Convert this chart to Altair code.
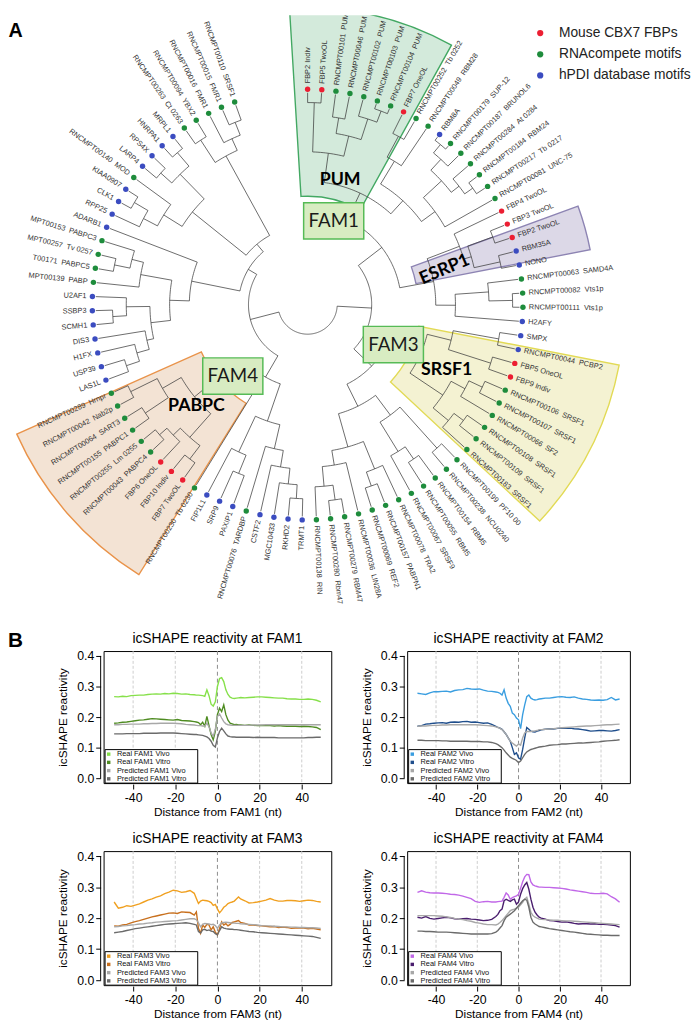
import math
import altair as alt
import pandas as pd

# ======================= Panel A : radial dendrogram =======================
LEAVES = [
    "FBP2 Indiv", "FBP5 TwoOL", "RNCMPT00101  PUM", "RNCMPT00046  PUM", "RNCMPT00102  PUM",
    "RNCMPT00103  PUM", "RNCMPT00104  PUM", "FBP7 OneOL", "RNCMPT00252  Tb 0252", "RNCMPT00049  RBM28",
    "RBM8A", "RNCMPT00179  SUP-12", "RNCMPT00187  BRUNOL6", "RNCMPT00284  At 0284", "RNCMPT00184  RBM24",
    "RNCMPT00217  Tb 0217", "RNCMPT00081  UNC-75", "FBP4 TwoOL", "FBP3 TwoOL", "FBP2 TwoOL",
    "RBM35A", "NONO", "RNCMPT00063  SAMD4A", "RNCMPT00082  Vts1p", "RNCMPT00111  Vts1p",
    "H2AFY", "SMPX", "RNCMPT00044  PCBP2", "FBP5 OneOL", "FBP9 Indiv",
    "RNCMPT00106  SRSF1", "RNCMPT00107  SRSF1", "RNCMPT00066  SF2", "RNCMPT00108  SRSF1", "RNCMPT00109  SRSF1",
    "RNCMPT00183  SRSF1", "RNCMPT00199  PF10 00", "RNCMPT00238  NCU0240", "RNCMPT00154  RBM5", "RNCMPT00055  RBM5",
    "RNCMPT00067  SRSF9", "RNCMPT00078  TRA2", "RNCMPT00157  PABPN1", "RNCMPT00069  REF2", "RNCMPT00036  LIN28A",
    "RNCMPT00279  RBM47", "RNCMPT00280  Rbm47", "RNCMPT00138  RIN", "TRMT1", "RKHD2",
    "MGC10433", "CSTF2", "RNCMPT00076  TARDBP", "PAXIP1", "SRP9",
    "FIP1L1", "RNCMPT00230  Tb 0230", "FBP7 TwoOL", "FBP10 Indiv", "FBP6 OneOL",
    "RNCMPT00043  PABPC4", "RNCMPT00255  Lm 0255", "RNCMPT00155  PABPC1", "RNCMPT00064  SART3", "RNCMPT00042  Nab2p",
    "RNCMPT00289  Hrnpr", "LAS1L", "USP39", "H1FX", "DIS3",
    "SCMH1", "SSBP3", "U2AF1", "MPT00139  PABP", "T00171  PABPC5",
    "MPT00257  Tv 0257", "MPT00153  PABPC3", "ADARB1", "RPP25", "CLK1",
    "KIAA0907", "RNCMPT00140  MOD", "LARP4", "RPS4X", "HNRPA1",
    "MRPL1", "RNCMPT00263  Ct 0263", "RNCMPT00094  YBX2", "RNCMPT00016  FMR1", "RNCMPT00015  FMR1",
    "RNCMPT00110  SRSF1",
]
# F = mouse CBX7 FBP, R = RNAcompete motif, H = hPDI database motif
LEAF_TYPE = ("FFRRRRRFRR" "HRRRRRRFFF" "HHRRRHHHFF" "RRRRRRRRRR" "RRRRRRRRHH"
             "HHRHHHRFFF" "RRRRRRHHHH" "HHHRRRRHHH" "HRHHHHRRRRR")
assert len(LEAVES) == len(LEAF_TYPE) == 91

TYPE_KEYS = ["F", "R", "H"]
TYPE_LABELS = ["Mouse CBX7 FBPs", "RNAcompete motifs", "hPDI database motifs"]

# tree nodes: [branch height, child, child, ...]; ints are 1-based leaf numbers
PUM = [155, [205, 1, 2], [176, [192, 3, 4], [198, 5, [210, 6, 7]]]]
G8_10 = [170, [194, 8, 9], 10]
G11_17 = [160, [185, [200, [211, 11, 12], 13], [195, 14, [205, 15, 16]]], 17]
G18_22 = [165, 18, [173, [200, 19, 20], [200, 21, 22]]]
G23_26 = [150, [184, 23, [208, 24, 25]], 26]
TOP = [95, [125, PUM, [143, G8_10, G11_17]], [130, G18_22, G23_26]]

S31_36 = [165, [181, [196, 31, 32], 33], [185, [197, 34, 35], 36]]
G27_36 = [125, [150, [197, 27, 28], [195, 29, 30]], S31_36]
G37_48 = [115, [140, [196, 37, 38], [175, [190, 39, 40], 41]],
          [150, [180, 42, [195, 43, 44]], [165, 45, [185, 48, [200, 46, 47]]]]]
RIGHT = [90, G27_36, G37_48]

B49_53 = [150, 53, [167, 52, [183, 51, [197, 49, 50]]]]
B54_56 = [165, [185, 54, 55], 56]
PABPC = [148, [180, [197, 58, 59], [190, 60, [200, 61, 62]]], [170, [198, 63, 64], [200, 65, 66]]]
BOTTOM = [85, [125, B49_53, B54_56], [100, 57, PABPC]]

L67_73 = [160, [167, 70, [180, 69, [194, 67, 68]]], [184, 73, [198, 71, 72]]]
LPABP = [172, 74, [184, 77, [200, 75, 76]]]
L79_82 = [172, [188, 79, [204, 80, 81]], 82]
L83_86 = [185, [200, 83, 84], [203, 85, 86]]
L87_91 = [172, [199, 87, 88], [185, 89, [199, 90, 91]]]
LEFT = [70, [120, [140, L67_73, LPABP], 78], [80, [150, L79_82, L83_86], L87_91]]

TREE = [30, [65, TOP, RIGHT], [60, BOTTOM, LEFT]]

# shaded clade sectors
SECTOR_NAMES = ["PUM", "ESRP1", "SRSF1", "PABPC"]
SECTOR_A1 = [356.5, 70.0, 101.0, 212.0]
SECTOR_A2 = [389.0, 79.0, 133.0, 246.0]
SECTOR_RIN = [110, 112, 115, 118]
SECTOR_ROUT = [301, 292, 322, 323]
SECTOR_FILL = ["#d3eadb", "#dcd8e7", "#f4f2d2", "#f3e3d4"]
SECTOR_STROKE = ["#43a863", "#8d84b3", "#e2da55", "#e9934a"]
# clade label anchors (angle, radius, rotation)
CLADE_A = [14.6, 75.7, 115.3, 227.5]
CLADE_R = [131, 143.5, 156, 153]
CLADE_ROT = [0, 337, 0, 0]
# family boxes
FAM_NAMES = ["FAM1", "FAM3", "FAM4"]
FAM_A = [17.3, 115.0, 226.3]
FAM_R = [89, 96, 105]

CX, CY = 312.0, 301.5          # tree centre (page px)
STEP = 3.78                    # degrees per leaf
LEAF_R, DOT_R, LABEL_R = 215.0, 218.5, 224.5
A_W, A_H = 683, 600


def polar(a_deg, r):
    a = math.radians(a_deg)
    return CX + r * math.sin(a), CY - r * math.cos(a)


seg_rows = []
seg_count = [0]


def add_seg(pts):
    sid = seg_count[0]
    seg_count[0] += 1
    for k, (a, r) in enumerate(pts):
        x, y = polar(a, r)
        seg_rows.append({"seg": sid, "k": k, "x": x, "y": y})


def walk(node):
    if isinstance(node, int):
        return (node - 1) * STEP, LEAF_R
    r = node[0]
    kids = [walk(c) for c in node[1:]]
    angs = [a for a, _ in kids]
    lo, hi = min(angs), max(angs)
    n = max(2, int(hi - lo) + 2)
    add_seg([(lo + (hi - lo) * i / (n - 1), r) for i in range(n)])
    for a, rc in kids:
        add_seg([(a, r), (a, rc)])
    return (lo + hi) / 2, r


walk(TREE)
tree_df = pd.DataFrame(seg_rows)

leaf_rows = []
for i, (name, t) in enumerate(zip(LEAVES, LEAF_TYPE)):
    a = i * STEP
    dx, dy = polar(a, DOT_R)
    lx, ly = polar(a, LABEL_R)
    right = a <= 180
    rot = (a - 90) % 360 if right else (a + 90) % 360
    leaf_rows.append({"x": dx, "y": dy, "lx": lx, "ly": ly, "type": t, "rot": rot,
                      "side": "R" if right else "L", "label": name.replace("  ", "\u00a0\u00a0")})
leaf_df = pd.DataFrame(leaf_rows)

sec_df = pd.DataFrame({
    "name": SECTOR_NAMES, "cx": [CX] * 4, "cy": [CY] * 4,
    "t1": [math.radians(a) for a in SECTOR_A1], "t2": [math.radians(a) for a in SECTOR_A2],
    "rin": SECTOR_RIN, "rout": SECTOR_ROUT, "fill": SECTOR_FILL, "stroke": SECTOR_STROKE,
})
clade_df = pd.DataFrame({
    "name": SECTOR_NAMES,
    "x": [polar(a, r)[0] for a, r in zip(CLADE_A, CLADE_R)],
    "y": [polar(a, r)[1] for a, r in zip(CLADE_A, CLADE_R)],
    "rot": CLADE_ROT,
})
BOX_W, BOX_H = 61, 37
fam_pts = [polar(a, r) for a, r in zip(FAM_A, FAM_R)]
fam_df = pd.DataFrame({
    "name": FAM_NAMES,
    "x": [p[0] for p in fam_pts], "y": [p[1] for p in fam_pts],
    "x1": [p[0] - BOX_W / 2 for p in fam_pts], "x2": [p[0] + BOX_W / 2 for p in fam_pts],
    "y1": [p[1] - BOX_H / 2 for p in fam_pts], "y2": [p[1] + BOX_H / 2 for p in fam_pts],
})
LEG_X, LEG_Y, LEG_DY = 548, 26, 21.5
leg_df = pd.DataFrame({
    "key": TYPE_KEYS, "label": TYPE_LABELS,
    "x": [LEG_X] * 3, "tx": [LEG_X + 19] * 3,
    "y": [LEG_Y + LEG_DY * i for i in range(3)],
})

xs = alt.Scale(domain=[8, 8 + A_W], nice=False, zero=False)
ys = alt.Scale(domain=[8, 8 + A_H], nice=False, zero=False, reverse=True)


def X(f="x"):
    return alt.X(f + ":Q", scale=xs, axis=None)


def Y(f="y"):
    return alt.Y(f + ":Q", scale=ys, axis=None)


sectors = alt.Chart(sec_df).mark_arc(strokeWidth=1.4, clip=True).encode(
    x=X("cx"), y=Y("cy"),
    theta=alt.Theta("t1:Q", scale=None, stack=None), theta2="t2:Q",
    radius=alt.Radius("rout:Q", scale=None), radius2="rin:Q",
    fill=alt.Fill("fill:N", scale=None), stroke=alt.Stroke("stroke:N", scale=None),
)
tree = alt.Chart(tree_df).mark_line(color="#3a3a3a", strokeWidth=0.75).encode(
    x=X(), y=Y(), detail="seg:N", order="k:Q")
boxes = alt.Chart(fam_df).mark_rect(fill="#d8ecc2", stroke="#56bb56", strokeWidth=1.5).encode(
    x=X("x1"), x2="x2:Q", y=Y("y1"), y2="y2:Q")
box_text = alt.Chart(fam_df).mark_text(font="Lato", fontSize=19, color="#1a1a1a").encode(
    x=X(), y=Y(), text="name:N")
dot_scale = alt.Scale(domain=TYPE_KEYS, range=["#ec1e32", "#1e8c3c", "#3b4cc0"])
dots = alt.Chart(leaf_df).mark_circle(size=30, opacity=1).encode(
    x=X(), y=Y(), color=alt.Color("type:N", scale=dot_scale, legend=None))
lab_r = alt.Chart(leaf_df).transform_filter("datum.side == 'R'").mark_text(
    align="left", baseline="middle", fontSize=7.5, color="#333333", clip=True).encode(
    x=X("lx"), y=Y("ly"), text="label:N", angle=alt.Angle("rot:Q", scale=None))
lab_l = alt.Chart(leaf_df).transform_filter("datum.side == 'L'").mark_text(
    align="right", baseline="middle", fontSize=7.5, color="#333333", clip=True).encode(
    x=X("lx"), y=Y("ly"), text="label:N", angle=alt.Angle("rot:Q", scale=None))
clades = alt.Chart(clade_df).mark_text(font="Lato", fontSize=18, fontWeight="bold", color="black").encode(
    x=X(), y=Y(), text="name:N", angle=alt.Angle("rot:Q", scale=None))
leg_dots = alt.Chart(leg_df).mark_circle(size=40, opacity=1).encode(
    x=X(), y=Y(), color=alt.Color("key:N", scale=alt.Scale(domain=TYPE_KEYS, range=["#f0143c", "#0b5e22", "#1a22e8"]), legend=None))
leg_text = alt.Chart(leg_df).mark_text(align="left", baseline="middle", fontSize=14, color="#222222").encode(
    x=X("tx"), y=Y(), text="label:N")
a_lab = alt.Chart(pd.DataFrame({"t": ["A"], "x": [8.5], "y": [24]})).mark_text(
    align="left", baseline="middle", fontSize=20, fontWeight="bold", color="black").encode(
    x=X(), y=Y(), text="t:N")

panelA = alt.layer(sectors, tree, boxes, box_text, dots, lab_r, lab_l, clades,
                   leg_dots, leg_text, a_lab).properties(width=A_W, height=A_H)

# ======================= Panel B : icSHAPE profiles =======================
POS = list(range(-49, -10, 2)) + list(range(-10, 11)) + list(range(11, 50, 2))

FAM1_REAL_VIVO = [.267, .266, .268, .267, .270, .271, .272, .272, .274, .275, .276, .275, .277, .276, .278, .277, .275, .276, .274, .273,
                  .272, .272, .271, .270, .268, .289, .270, .242, .236, .250, .300, .326, .329, .316, .289, .274, .265, .262, .261, .262, .263,
                  .264, .263, .264, .265, .266, .266, .265, .264, .263, .262, .262, .260, .259, .259, .258, .258, .259, .258, .255, .250]
FAM1_REAL_VITRO = [.180, .181, .183, .184, .186, .188, .190, .191, .193, .195, .194, .193, .192, .191, .190, .192, .189, .188, .187, .185,
                   .184, .182, .175, .183, .170, .202, .172, .143, .126, .153, .208, .229, .218, .240, .208, .190, .180, .178, .175, .176, .174,
                   .174, .173, .174, .173, .172, .173, .172, .172, .171, .172, .171, .170, .170, .170, .169, .170, .169, .168, .166, .159]
FAM1_PRED_VIVO = [.175, .175, .176, .176, .177, .177, .177, .178, .178, .179, .179, .180, .180, .180, .180, .179, .178, .176, .175, .174,
                  .173, .172, .172, .171, .170, .180, .168, .148, .137, .160, .202, .210, .197, .185, .178, .175, .174, .173, .173, .173, .173,
                  .173, .173, .173, .174, .174, .174, .175, .175, .175, .175, .175, .175, .175, .175, .175, .175, .175, .175, .175, .175]
FAM1_PRED_VITRO = [.145, .145, .145, .146, .146, .146, .146, .147, .147, .147, .147, .148, .148, .148, .148, .147, .146, .145, .144, .143,
                   .143, .142, .141, .140, .138, .135, .130, .121, .108, .102, .132, .153, .164, .155, .145, .138, .136, .135, .135, .134, .134,
                   .134, .134, .134, .133, .134, .133, .133, .133, .133, .132, .132, .132, .132, .132, .132, .132, .133, .133, .134, .134]

FAM2_REAL_VIVO = [.278, .276, .274, .279, .283, .283, .284, .285, .282, .287, .289, .290, .294, .292, .291, .292, .288, .285, .284, .282,
                  .281, .278, .272, .289, .262, .245, .235, .213, .208, .197, .191, .162, .208, .240, .267, .272, .262, .258, .256, .257, .259,
                  .260, .262, .262, .264, .266, .267, .265, .264, .266, .262, .259, .258, .256, .255, .256, .255, .257, .264, .256, .259]
FAM2_REAL_VITRO = [.170, .172, .177, .178, .180, .181, .182, .180, .183, .184, .183, .185, .186, .183, .184, .182, .180, .181, .176, .170,
                   .166, .164, .160, .152, .143, .132, .121, .100, .078, .083, .067, .062, .094, .132, .166, .160, .154, .152, .151, .154, .156,
                   .158, .160, .162, .161, .163, .164, .163, .164, .162, .161, .159, .157, .154, .155, .156, .156, .155, .154, .156, .159]
FAM2_PRED_VIVO = [.170, .171, .171, .172, .173, .173, .174, .174, .175, .175, .175, .175, .175, .175, .175, .174, .173, .172, .171, .168,
                  .166, .163, .159, .152, .143, .132, .121, .115, .110, .105, .112, .108, .132, .148, .153, .153, .153, .154, .155, .156, .159,
                  .159, .160, .161, .162, .164, .165, .166, .167, .168, .169, .170, .171, .171, .172, .173, .174, .175, .175, .176, .177]
FAM2_PRED_VITRO = [.124, .124, .123, .123, .123, .123, .122, .122, .121, .121, .121, .121, .121, .120, .120, .120, .119, .119, .117, .113,
                   .110, .105, .100, .092, .083, .076, .069, .065, .062, .058, .051, .056, .067, .078, .086, .090, .094, .096, .098, .100, .102,
                   .103, .105, .108, .109, .110, .112, .112, .113, .114, .115, .115, .116, .117, .118, .119, .121, .122, .123, .124, .126]

FAM3_REAL_VIVO = [.252, .232, .235, .240, .238, .242, .246, .252, .258, .262, .268, .272, .279, .284, .290, .288, .283, .285, .289, .280,
                  .263, .247, .255, .258, .257, .256, .254, .250, .241, .244, .230, .217, .225, .235, .240, .247, .250, .252, .255, .262, .268,
                  .262, .256, .249, .250, .252, .255, .258, .263, .258, .255, .255, .257, .257, .256, .254, .256, .258, .257, .254, .252]
FAM3_REAL_VITRO = [.175, .174, .178, .180, .185, .189, .192, .196, .200, .204, .207, .210, .213, .216, .217, .215, .220, .219, .218, .210,
                   .220, .167, .151, .178, .170, .180, .178, .162, .172, .155, .146, .167, .188, .178, .182, .175, .180, .186, .188, .190, .192,
                   .186, .183, .178, .178, .176, .175, .174, .172, .173, .170, .171, .170, .167, .168, .169, .168, .166, .167, .165, .162]
FAM3_PRED_VIVO = [.172, .173, .175, .176, .178, .179, .181, .182, .184, .185, .187, .188, .189, .190, .191, .192, .194, .196, .198, .198,
                  .195, .185, .172, .180, .183, .182, .181, .179, .180, .176, .167, .178, .185, .186, .187, .186, .185, .184, .184, .183, .183,
                  .182, .181, .180, .179, .178, .176, .175, .175, .174, .173, .172, .172, .171, .171, .170, .170, .169, .169, .168, .167]
FAM3_PRED_VITRO = [.153, .155, .157, .160, .163, .166, .168, .170, .172, .174, .176, .178, .180, .181, .182, .183, .184, .185, .183, .180,
                   .178, .157, .152, .162, .164, .160, .162, .158, .157, .150, .146, .160, .172, .168, .166, .165, .164, .164, .163, .163, .162,
                   .161, .159, .157, .156, .154, .153, .152, .151, .150, .149, .148, .147, .146, .145, .144, .143, .142, .141, .138, .135]

FAM4_REAL_VIVO = [.283, .288, .284, .282, .281, .281, .280, .279, .277, .276, .274, .271, .267, .263, .254, .251, .253, .254, .252, .252,
                  .253, .254, .255, .267, .281, .275, .261, .266, .269, .272, .277, .296, .317, .333, .341, .340, .317, .307, .304, .302, .300,
                  .300, .299, .299, .298, .297, .296, .294, .291, .289, .287, .285, .283, .280, .279, .279, .280, .278, .269, .262, .251]
FAM4_REAL_VITRO = [.203, .200, .205, .199, .197, .199, .201, .203, .201, .198, .197, .198, .199, .197, .196, .194, .192, .193, .196, .205,
                   .212, .224, .229, .256, .261, .257, .254, .259, .261, .245, .252, .277, .295, .307, .315, .293, .261, .235, .219, .210, .203,
                   .200, .197, .192, .191, .189, .187, .188, .186, .183, .181, .182, .182, .181, .182, .180, .180, .179, .178, .176, .171]
FAM4_PRED_VIVO = [.208, .208, .208, .208, .208, .207, .206, .204, .202, .199, .197, .195, .192, .190, .186, .184, .181, .179, .179, .178,
                  .181, .186, .192, .200, .208, .216, .224, .227, .229, .232, .235, .243, .251, .261, .267, .245, .219, .208, .203, .200, .197,
                  .196, .195, .194, .193, .193, .192, .191, .191, .190, .189, .188, .187, .186, .185, .184, .183, .182, .181, .180, .179]
FAM4_PRED_VITRO = [.158, .158, .157, .157, .156, .155, .155, .155, .154, .153, .152, .151, .150, .149, .149, .149, .149, .149, .150, .155,
                   .160, .168, .176, .192, .203, .208, .213, .218, .224, .232, .240, .248, .256, .261, .258, .235, .203, .187, .181, .177, .173,
                   .172, .169, .166, .164, .162, .160, .158, .156, .155, .153, .151, .149, .148, .147, .146, .145, .145, .144, .144, .144]

FAM_COLORS = {
    1: ["#86e04a", "#4f8c22", "#a8a8a8", "#6b6b6b"],
    2: ["#3a9ee0", "#1f4e8c", "#a8a8a8", "#6b6b6b"],
    3: ["#f0a020", "#c8701e", "#a8a8a8", "#6b6b6b"],
    4: ["#c168e8", "#4a1e6e", "#a8a8a8", "#6b6b6b"],
}
FAM_DATA = {
    1: [FAM1_REAL_VIVO, FAM1_REAL_VITRO, FAM1_PRED_VIVO, FAM1_PRED_VITRO],
    2: [FAM2_REAL_VIVO, FAM2_REAL_VITRO, FAM2_PRED_VIVO, FAM2_PRED_VITRO],
    3: [FAM3_REAL_VIVO, FAM3_REAL_VITRO, FAM3_PRED_VIVO, FAM3_PRED_VITRO],
    4: [FAM4_REAL_VIVO, FAM4_REAL_VITRO, FAM4_PRED_VIVO, FAM4_PRED_VITRO],
}
for _k, _v in FAM_DATA.items():
    for _s in _v:
        assert len(_s) == len(POS), (_k, len(_s))
GRID_AT = [-40, -20, 20, 40]
X_TICKS = [-40, -20, 0, 20, 40]
Y_TICKS = [0.0, 0.1, 0.2, 0.3, 0.4]
LEG_BOX_W, LEG_BOX_H, LEG_ROW = 94, 34, 8.35


def fam_chart(k, w, h):
    names = [f"Real FAM{k} Vivo", f"Real FAM{k} Vitro", f"Predicted FAM{k} Vivo", f"Predicted FAM{k} Vitro"]
    rows = []
    for name, vals in zip(names, FAM_DATA[k]):
        for p, v in zip(POS, vals):
            rows.append({"pos": p, "val": v, "series": name})
    df = pd.DataFrame(rows)
    xsc = alt.Scale(domain=[-54, 54], nice=False, zero=False)
    ysc = alt.Scale(domain=[-0.016, 0.416], nice=False, zero=False)
    grid = alt.Chart(pd.DataFrame({"g": GRID_AT})).mark_rule(
        color="#c8c8c8", strokeDash=[3, 2], strokeWidth=0.9).encode(x=alt.X("g:Q", scale=xsc, axis=None))
    zero = alt.Chart(pd.DataFrame({"g": [0]})).mark_rule(
        color="#8c8c8c", strokeDash=[4, 3], strokeWidth=1).encode(x=alt.X("g:Q", scale=xsc, axis=None))
    lines = alt.Chart(df).mark_line(strokeWidth=1.4).encode(
        x=alt.X("pos:Q", scale=xsc, axis=alt.Axis(
            values=X_TICKS, title=f"Distance from FAM{k} (nt)",
            labelExpr="datum.value < 0 ? '-' + abs(datum.value) : '' + datum.value",
            grid=False, domain=False, tickSize=5, offset=1, labelPadding=3, titlePadding=2)),
        y=alt.Y("val:Q", scale=ysc, axis=alt.Axis(
            values=Y_TICKS, format=".1f", title="icSHAPE reactivity",
            grid=False, domain=False, tickSize=5, offset=3, labelPadding=2, titlePadding=7)),
        color=alt.Color("series:N", sort=names, scale=alt.Scale(domain=names, range=FAM_COLORS[k]),
                        legend=None),
    )
    yline = alt.Chart(pd.DataFrame({"a": [0.0], "b": [0.4]})).mark_rule(color="black", strokeWidth=1).encode(
        x=alt.value(-3), y=alt.Y("a:Q", scale=ysc, axis=None), y2="b:Q")
    # legend drawn inside the plot (bottom-left), rows positioned in pixels from the top
    ldf = pd.DataFrame({"name": names, "col": FAM_COLORS[k],
                        "ly": [h - LEG_BOX_H + 4.6 + LEG_ROW * i for i in range(4)]})
    lsc = alt.Scale(domain=[0, h], nice=False, zero=False, reverse=True)
    leg_box = alt.Chart(pd.DataFrame({"a": [0]})).mark_rect(
        fill="white", stroke="black", strokeWidth=1).encode(
        x=alt.value(1.5), x2=alt.value(1.5 + LEG_BOX_W), y=alt.value(h - LEG_BOX_H), y2=alt.value(h))
    leg_sq = alt.Chart(ldf).mark_square(size=12, filled=True, opacity=1).encode(
        x=alt.value(5.2), y=alt.Y("ly:Q", scale=lsc, axis=None), color=alt.Color("col:N", scale=None))
    leg_tx = alt.Chart(ldf).mark_text(align="left", baseline="middle", fontSize=7.5, color="#111111").encode(
        x=alt.value(13.5), y=alt.Y("ly:Q", scale=lsc, axis=None), text="name:N")
    return alt.layer(grid, zero, lines, yline, leg_box, leg_sq, leg_tx).resolve_scale(
        x="independent", y="independent", color="independent"
    ).properties(
        width=w, height=h,
        title=alt.TitleParams(f"icSHAPE reactivity at FAM{k}", fontSize=14, fontWeight="normal",
                              offset=4, color="black"),
        view=alt.ViewBackground(stroke="black", strokeWidth=1),
    )


def spacer(txt, h):
    return alt.Chart(pd.DataFrame({"t": [txt]})).mark_text(
        align="left", baseline="middle", fontSize=21, fontWeight="bold", color="black").encode(
        text="t:N", x=alt.value(0), y=alt.value(-10)).properties(width=22, height=h)


def indep(c):
    return c.resolve_scale(x="independent", y="independent", color="independent")


def row(txt, a, b, h):
    pair = indep(alt.hconcat(fam_chart(a, 231, h), fam_chart(b, 226, h), spacing=28))
    return indep(alt.hconcat(spacer(txt, h), pair, spacing=27))


row1 = row("B", 1, 2, 134)
row2 = row("", 3, 4, 136)
panelB = indep(alt.vconcat(row1, row2, spacing=13))

chart = indep(alt.vconcat(panelA, panelB, spacing=24)).properties(
    padding={"left": 0, "top": 0, "right": 0, "bottom": 0}
).configure(font="Liberation Sans").configure_view(stroke=None).configure_axis(
    labelFontSize=12.5, titleFontSize=12, titleFontWeight="normal", labelColor="black",
    titleColor="black", tickColor="black", labelFont="Liberation Sans", titleFont="Liberation Sans"
)

chart.save("out.html", embed_options={"renderer": "svg", "actions": False})
